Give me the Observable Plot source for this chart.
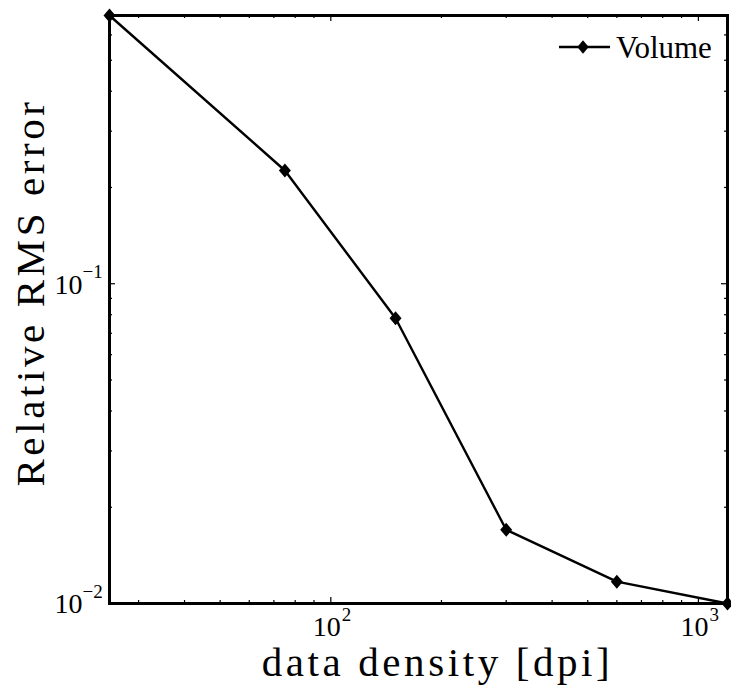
<!DOCTYPE html>
<html>
<head>
<meta charset="utf-8">
<script src="https://cdn.jsdelivr.net/npm/d3@7"></script>
<script src="https://cdn.jsdelivr.net/npm/@observablehq/plot@0.6"></script>
<style>
  html, body { margin: 0; padding: 0; background: #fff; }
  #chart svg { display: block; }
  #chart svg text { font-family: "Liberation Serif", "Times New Roman", serif !important; }
</style>
</head>
<body>
<div id="chart"></div>
<script>
// ---- data ----
const density = [25, 75, 150, 300, 600, 1200];          // dpi
const rmsError = [0.69, 0.226, 0.078, 0.0170, 0.0117, 0.0100];
const seriesName = "Volume";
const xMajorTicks = [100, 1000];
const xMinorTicks = [30, 40, 50, 60, 70, 80, 90, 200, 300, 400, 500, 600, 700, 800, 900];
const yMajorTicks = [0.01, 0.1];
const yMinorTicks = [0.02, 0.03, 0.04, 0.05, 0.06, 0.07, 0.08, 0.09, 0.2, 0.3, 0.4, 0.5, 0.6];
const xTitle = "data density [dpi]";
const yTitle = "Relative RMS error";

const data = density.map((d, i) => ({x: d, y: rmsError[i]}));

const W = 731, H = 694;
const mL = 109, mR = 4, mT = 15, mB = 91;
const innerW = W - mL - mR, innerH = H - mT - mB;

const diamond = {
  draw(ctx, size) {
    const h = Math.sqrt(size) * 0.75, w = h * 0.85;
    ctx.moveTo(0, -h); ctx.lineTo(w, 0); ctx.lineTo(0, h); ctx.lineTo(-w, 0); ctx.closePath();
  }
};

function legend(index, scales, values, dims) {
  const x0 = dims.width - dims.marginRight - 168;
  const y0 = dims.marginTop + 32;
  const g = d3.create("svg:g");
  g.append("line").attr("x1", x0).attr("x2", x0 + 51).attr("y1", y0).attr("y2", y0)
    .attr("stroke", "black").attr("stroke-width", 2.4);
  const p = d3.path(); diamond.draw(p, 80);
  g.append("path").attr("d", p.toString()).attr("transform", `translate(${x0 + 24},${y0})`)
    .attr("fill", "black");
  g.append("text").attr("x", x0 + 57).attr("y", y0 + 11)
    .attr("text-anchor", "start").attr("font-size", 31).attr("fill", "black").text(seriesName);
  return g.node();
}

const tickStyle = {stroke: "black", strokeWidth: 1.2};
const txt = {fill: "black"};
const chart = Plot.plot({
  width: W, height: H,
  marginLeft: mL, marginRight: mR, marginTop: mT, marginBottom: mB,
  style: {background: "white", overflow: "visible"},
  x: {type: "log", domain: [25, 1200], axis: null},
  y: {type: "log", domain: [0.01, 0.69], axis: null},
  marks: [
    // minor ticks (inward, all four sides)
    Plot.tickX(xMinorTicks, {x: d => d, insetTop: innerH - 3, ...tickStyle}),
    Plot.tickX(xMinorTicks, {x: d => d, insetBottom: innerH - 3, ...tickStyle}),
    Plot.tickY(yMinorTicks, {y: d => d, insetRight: innerW - 3, ...tickStyle}),
    Plot.tickY(yMinorTicks, {y: d => d, insetLeft: innerW - 3, ...tickStyle}),
    // major ticks
    Plot.tickX(xMajorTicks, {x: d => d, insetTop: innerH - 6, ...tickStyle}),
    Plot.tickX(xMajorTicks, {x: d => d, insetBottom: innerH - 6, ...tickStyle}),
    Plot.tickY(yMajorTicks, {y: d => d, insetRight: innerW - 6, ...tickStyle}),
    Plot.tickY(yMajorTicks, {y: d => d, insetLeft: innerW - 6, ...tickStyle}),
    // tick labels: 10^n
    Plot.text(xMajorTicks, {x: d => d, text: () => "10", frameAnchor: "bottom", dy: 32,
      dx: -4, fontSize: 28, textAnchor: "middle", ...txt}),
    Plot.text(xMajorTicks, {x: d => d, text: d => String(Math.round(Math.log10(d))), frameAnchor: "bottom",
      dy: 17, dx: 11, textAnchor: "start", fontSize: 19, ...txt}),
    Plot.text(yMajorTicks, {y: d => d, text: () => "10", frameAnchor: "left", dx: -27, dy: 1,
      textAnchor: "end", fontSize: 28, ...txt}),
    Plot.text(yMajorTicks, {y: d => d, text: d => "\u2212" + String(Math.round(-Math.log10(d))), frameAnchor: "left",
      dx: -27, dy: -12, textAnchor: "start", fontSize: 19, ...txt}),
    // axis titles
    Plot.text([xTitle], {text: d => d, frameAnchor: "bottom", dx: 19, dy: 72,
      fontSize: 41, textAnchor: "middle", lineAnchor: "bottom", ...txt}),
    Plot.text([yTitle], {text: d => d, frameAnchor: "left", dx: -66, dy: -17, rotate: -90,
      fontSize: 41, textAnchor: "middle", lineAnchor: "bottom", ...txt}),
    // frame
    Plot.frame({stroke: "black", strokeWidth: 3}),
    // data
    Plot.line(data, {x: "x", y: "y", stroke: "black", strokeWidth: 2.4}),
    Plot.dot(data, {x: "x", y: "y", symbol: diamond, r: 5.3, fill: "black", stroke: "none"}),
    legend
  ]
});
const svg = d3.select(chart);
svg.selectAll("text").filter(function() {
  return this.textContent === xTitle || this.textContent === yTitle;
}).style("letter-spacing", "3.6px");
document.getElementById("chart").append(chart);
</script>
</body>
</html>
